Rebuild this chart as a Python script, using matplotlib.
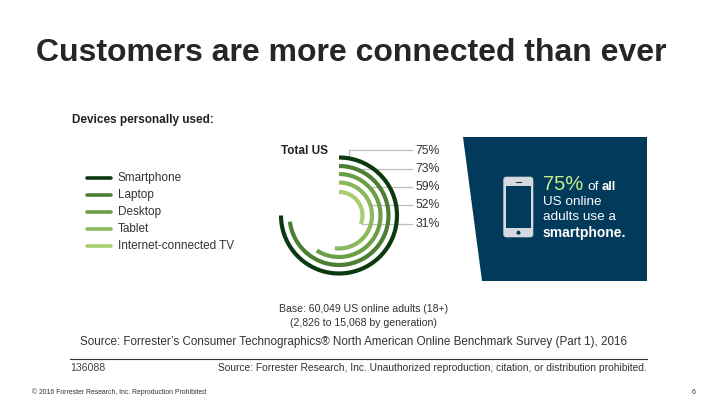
import numpy as np
import matplotlib
matplotlib.use("Agg")
import matplotlib.pyplot as plt
from matplotlib.patches import Polygon, FancyBboxPatch, Rectangle, Circle

plt.rcParams['font.family'] = ['Liberation Sans', 'DejaVu Sans']

devices = ["Smartphone", "Laptop", "Desktop", "Tablet", "Internet-connected TV"]
values = [75, 73, 59, 52, 31]
colors = ["#0B3A10", "#4C7F34", "#6B9E45", "#8BB85C", "#A9CE72"]
radii = [58, 49.5, 41.5, 33, 23.5]
label_y = [150, 168.5, 187, 205, 223.5]
leader_x = [348.5, 362, 372, 370, 362]
legend_y = [177.5, 194.5, 212, 229, 246]
cx, cy = 339, 215.5

fig = plt.figure(figsize=(7.2, 4.05), dpi=100)
ax = fig.add_axes([0, 0, 1, 1])
ax.set_xlim(0, 720)
ax.set_ylim(405, 0)
ax.axis("off")

ax.text(351, 53, "Customers are more connected than ever", ha="center", va="center",
        fontsize=23, fontweight="bold", color="#262626")
ax.text(72, 119.5, "Devices personally used:", ha="left", va="center", fontsize=8.5,
        fontweight="bold", color="#222222")

# legend
for name, c, y in zip(devices, colors, legend_y):
    ax.plot([87, 111], [y, y], color=c, lw=2.6, solid_capstyle="round")
    ax.text(118, y + 0.3, name, ha="left", va="center", fontsize=8.5, color="#333333")

# rings
for v, r, c in zip(values, radii, colors):
    t = np.linspace(0, v / 100 * 2 * np.pi, 200)
    ax.plot(cx + r * np.sin(t), cy - r * np.cos(t), color=c, lw=3.0, solid_capstyle="butt")

# leaders and labels
ax.text(281, 150.5, "Total US", ha="left", va="center", fontsize=8.5, fontweight="bold", color="#222222")
for i, (v, y, x) in enumerate(zip(values, label_y, leader_x)):
    if i == 0:
        ax.plot([x, x, 412], [156, y, y], color="#BDBDBD", lw=0.9, zorder=0)
    else:
        ax.plot([x, 412], [y, y], color="#BDBDBD", lw=0.9, zorder=0)
    ax.text(415.5, y + 0.5, f"{v}%", ha="left", va="center", fontsize=8.8, color="#333333")

# panel
navy = "#023A5C"
ax.add_patch(Polygon([(463.3, 137), (647, 137), (647, 281), (482.3, 281)], closed=True, fc=navy, ec="none"))
ax.add_patch(FancyBboxPatch((504.8, 178.2), 27, 57.6, boxstyle="round,pad=1.5,rounding_size=3",
                            fc="#D6D9DE", ec="none"))
ax.add_patch(Rectangle((505.8, 185.8), 25.5, 42, fc=navy, ec="none"))
ax.add_patch(Circle((518.5, 232.7), 2, fc=navy, ec="none"))
ax.plot([516, 521], [181.5, 181.5], color=navy, lw=0.8)

ax.text(543, 184, "75%", ha="left", va="center", fontsize=14.5, color="#C5EE8C")
ax.text(587, 186.5, "of", ha="left", va="center", fontsize=9.7, color="white")
ax.text(602, 186.5, "all", ha="left", va="center", fontsize=9.4, color="white", fontweight="bold")
ax.text(543, 202, "US online", ha="left", va="center", fontsize=9.7, color="white")
ax.text(543, 217.5, "adults use a", ha="left", va="center", fontsize=9.7, color="white")
ax.text(543, 233, "smartphone.", ha="left", va="center", fontsize=10, color="white", fontweight="bold")

# notes
ax.text(363.5, 309.5, "Base: 60,049 US online adults (18+)", ha="center", va="center", fontsize=7.6, color="#333333")
ax.text(363.5, 323.5, "(2,826 to 15,068 by generation)", ha="center", va="center", fontsize=7.6, color="#333333")
ax.text(354, 342, "Source: Forrester\u2019s Consumer Technographics\u00ae North American Online Benchmark Survey (Part 1), 2016",
        ha="center", va="center", fontsize=8.4, color="#333333")
ax.plot([70, 647], [358.7, 358.7], color="#333333", lw=0.8)
ax.text(70, 368, "136088", ha="left", va="center", fontsize=7.6, color="#444444")
ax.text(647, 368, "Source: Forrester Research, Inc. Unauthorized reproduction, citation, or distribution prohibited.",
        ha="right", va="center", fontsize=7.35, color="#333333")
ax.text(32, 392.5, "\u00a9 2016 Forrester Research, Inc. Reproduction Prohibited", ha="left", va="center",
        fontsize=4.95, color="#333333")
ax.text(692, 392.5, "6", ha="left", va="center", fontsize=5, color="#333333")

fig.savefig("out.png", dpi=100)
